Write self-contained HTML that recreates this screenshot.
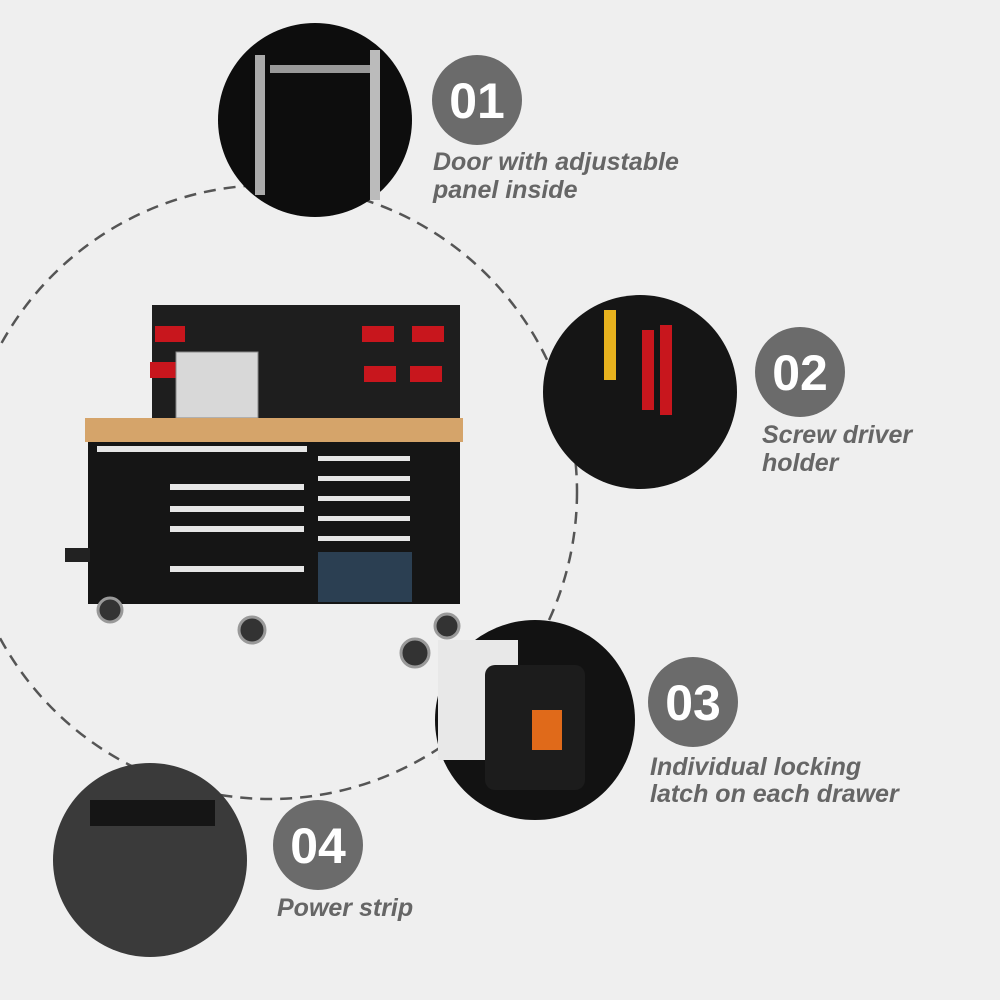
<!DOCTYPE html>
<html><head><meta charset="utf-8"><style>
html,body{margin:0;padding:0;background:#efefef;}
svg{display:block}
text{font-family:"Liberation Sans",sans-serif;}
.lbl{font-weight:bold;font-style:italic;fill:#666;font-size:25px;}
.num{font-weight:bold;fill:#fff;font-size:50px;}
</style></head><body>
<svg width="1000" height="1000" viewBox="0 0 1000 1000">
<rect width="1000" height="1000" fill="#efefef"/>
<circle cx="270" cy="492" r="307" fill="none" stroke="#555" stroke-width="2.5" stroke-dasharray="12 8"/>

<!-- toolbox -->
<rect x="152" y="305" width="308" height="120" fill="#1e1e1e"/>
<g fill="#c8161d">
<rect x="155" y="326" width="30" height="16"/><rect x="150" y="362" width="26" height="16"/>
<rect x="362" y="326" width="32" height="16"/><rect x="412" y="326" width="32" height="16"/>
<rect x="364" y="366" width="32" height="16"/><rect x="410" y="366" width="32" height="16"/>
</g>
<rect x="176" y="352" width="82" height="66" fill="#d8d8d8" stroke="#888"/>
<rect x="85" y="418" width="378" height="24" fill="#d5a46a"/>
<rect x="88" y="442" width="372" height="162" fill="#151515"/>
<g fill="#e6e6e6">
<rect x="97" y="446" width="210" height="6"/>
<rect x="318" y="456" width="92" height="5"/><rect x="318" y="476" width="92" height="5"/>
<rect x="318" y="496" width="92" height="5"/><rect x="318" y="516" width="92" height="5"/>
<rect x="318" y="536" width="92" height="5"/>
<rect x="170" y="484" width="134" height="6"/><rect x="170" y="506" width="134" height="6"/>
<rect x="170" y="526" width="134" height="6"/><rect x="170" y="566" width="134" height="6"/>
</g>
<rect x="318" y="552" width="94" height="50" fill="#2b3f52"/>
<rect x="65" y="548" width="25" height="14" fill="#222"/>
<g fill="#333" stroke="#999" stroke-width="3">
<circle cx="110" cy="610" r="12"/><circle cx="252" cy="630" r="13"/>
<circle cx="415" cy="653" r="14"/><circle cx="447" cy="626" r="12"/>
</g>

<!-- photo circles -->
<circle cx="315" cy="120" r="97" fill="#0d0d0d"/>
<rect x="255" y="55" width="10" height="140" fill="#aaa"/>
<rect x="270" y="65" width="105" height="8" fill="#999"/>
<rect x="370" y="50" width="10" height="150" fill="#bbb"/>
<circle cx="640" cy="392" r="97" fill="#151515"/>
<g fill="#c8161d"><rect x="642" y="330" width="12" height="80"/><rect x="660" y="325" width="12" height="90"/></g>
<rect x="604" y="310" width="12" height="70" fill="#e8b21e"/>
<circle cx="535" cy="720" r="100" fill="#121212"/>
<rect x="438" y="640" width="80" height="120" fill="#e8e8e8"/>
<rect x="485" y="665" width="100" height="125" rx="10" fill="#1c1c1c"/>
<rect x="532" y="710" width="30" height="40" fill="#e06a1a"/>
<circle cx="150" cy="860" r="97" fill="#3a3a3a"/>
<rect x="90" y="800" width="125" height="26" fill="#151515"/>

<!-- badges -->
<g fill="#6b6b6b">
<circle cx="477" cy="100" r="45"/><circle cx="800" cy="372" r="45"/>
<circle cx="693" cy="702" r="45"/><circle cx="318" cy="845" r="45"/>
</g>
<text class="num" x="477" y="118" text-anchor="middle">01</text>
<text class="num" x="800" y="390" text-anchor="middle">02</text>
<text class="num" x="693" y="720" text-anchor="middle">03</text>
<text class="num" x="318" y="863" text-anchor="middle">04</text>

<text class="lbl" x="433" y="170">Door with adjustable</text>
<text class="lbl" x="433" y="198">panel inside</text>
<text class="lbl" x="762" y="443">Screw driver</text>
<text class="lbl" x="762" y="471">holder</text>
<text class="lbl" x="650" y="775">Individual locking</text>
<text class="lbl" x="650" y="802">latch on each drawer</text>
<text class="lbl" x="277" y="916">Power strip</text>
</svg>
</body></html>
